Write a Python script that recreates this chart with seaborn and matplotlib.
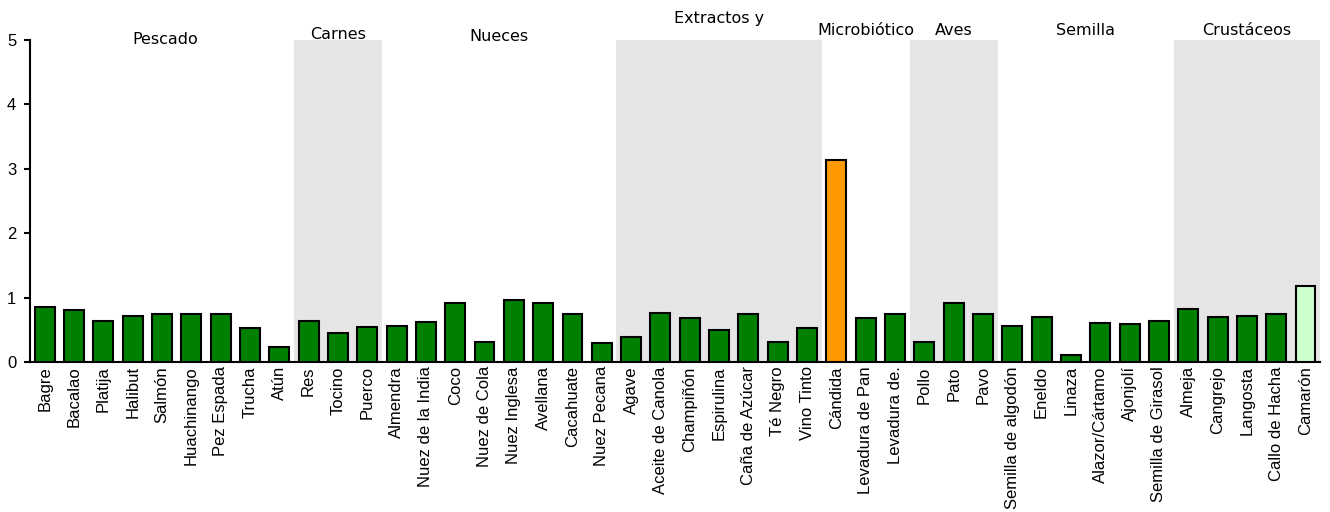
import matplotlib
matplotlib.use("Agg")
import matplotlib.pyplot as plt
import seaborn as sns
import pandas as pd

alimentos = ['Bagre', 'Bacalao', 'Platija', 'Halibut', 'Salmón', 'Huachinango', 'Pez Espada',
             'Trucha', 'Atún', 'Res', 'Tocino', 'Puerco', 'Almendra', 'Nuez de la India', 'Coco',
             'Nuez de Cola', 'Nuez Inglesa', 'Avellana', 'Cacahuate', 'Nuez Pecana', 'Agave',
             'Aceite de Canola', 'Champiñón', 'Espirulina', 'Caña de Azúcar', 'Té Negro',
             'Vino Tinto', 'Cándida', 'Levadura de Pan', 'Levadura de.', 'Pollo', 'Pato', 'Pavo',
             'Semilla de algodón', 'Eneldo', 'Linaza', 'Alazor/Cártamo', 'Ajonjolí',
             'Semilla de Girasol', 'Almeja', 'Cangrejo', 'Langosta', 'Callo de Hacha', 'Camarón']
valores = [0.86, 0.80, 0.64, 0.72, 0.74, 0.75, 0.745, 0.52, 0.23, 0.63, 0.45, 0.55, 0.56, 0.62,
           0.91, 0.31, 0.97, 0.92, 0.75, 0.30, 0.39, 0.76, 0.68, 0.50, 0.74, 0.31, 0.53, 3.13,
           0.69, 0.75, 0.31, 0.91, 0.75, 0.56, 0.70, 0.11, 0.60, 0.59, 0.63, 0.83, 0.70, 0.71,
           0.75, 1.18]
# nivel: normal / alto / moderado
nivel = ['normal'] * 27 + ['alto'] + ['normal'] * 15 + ['moderado']

grupos = ['Pescado', 'Carnes', 'Nueces', 'Extractos y', 'Microbiótico', 'Aves', 'Semilla', 'Crustáceos']
grupo_n = [9, 3, 8, 7, 3, 3, 6, 5]
grupo_sombra = [False, True, False, True, False, True, False, True]
# small vertical offsets of the group titles as seen in the picture
grupo_y = [5.0, 5.08, 5.05, 5.34, 5.15, 5.15, 5.14, 5.15]

colores = {'normal': '#008000', 'alto': '#ff9900', 'moderado': '#ccffcc'}

df = pd.DataFrame({'alimento': alimentos, 'valor': valores, 'nivel': nivel})

sns.set_style('white')
plt.rcParams['font.family'] = ['Liberation Sans', 'DejaVu Sans']
plt.rcParams['text.color'] = 'black'
plt.rcParams['xtick.color'] = 'black'
plt.rcParams['ytick.color'] = 'black'

fig = plt.figure(figsize=(13.3, 5.12), dpi=100)
ax = fig.add_axes([0.0226, 0.293, 0.97, 0.629])

sns.barplot(data=df, x='alimento', y='valor', hue='nivel', palette=colores,
            dodge=False, width=0.68, edgecolor='black', linewidth=1.5, saturation=1,
            legend=False, ax=ax, zorder=3)

inicio = 0
for g, n, sombra, gy in zip(grupos, grupo_n, grupo_sombra, grupo_y):
    if sombra:
        ax.axvspan(inicio - 0.5, inicio + n - 0.5, color='#e6e6e6', zorder=0, lw=0)
    cx = inicio + (n - 1) / 2
    if g == 'Pescado':
        cx = 4.1
    ax.text(cx, gy, g, ha='center', va='center', fontsize=11.5, color='black',
            family='DejaVu Sans', clip_on=False)
    inicio += n

ax.set_xlim(-0.5, 43.5)
ax.set_ylim(0, 5)
ax.set_yticks([0, 1, 2, 3, 4, 5])
ax.set_xlabel('')
ax.set_ylabel('')
ax.tick_params(axis='x', rotation=90, labelsize=12, length=0, pad=3)
ax.tick_params(axis='y', labelsize=12, length=4, width=1.5, left=True, direction='out', pad=6)
for s in ['top', 'right']:
    ax.spines[s].set_visible(False)
for s in ['left', 'bottom']:
    ax.spines[s].set_color('black')
    ax.spines[s].set_linewidth(1.5)

fig.savefig('out.png', dpi=100)
